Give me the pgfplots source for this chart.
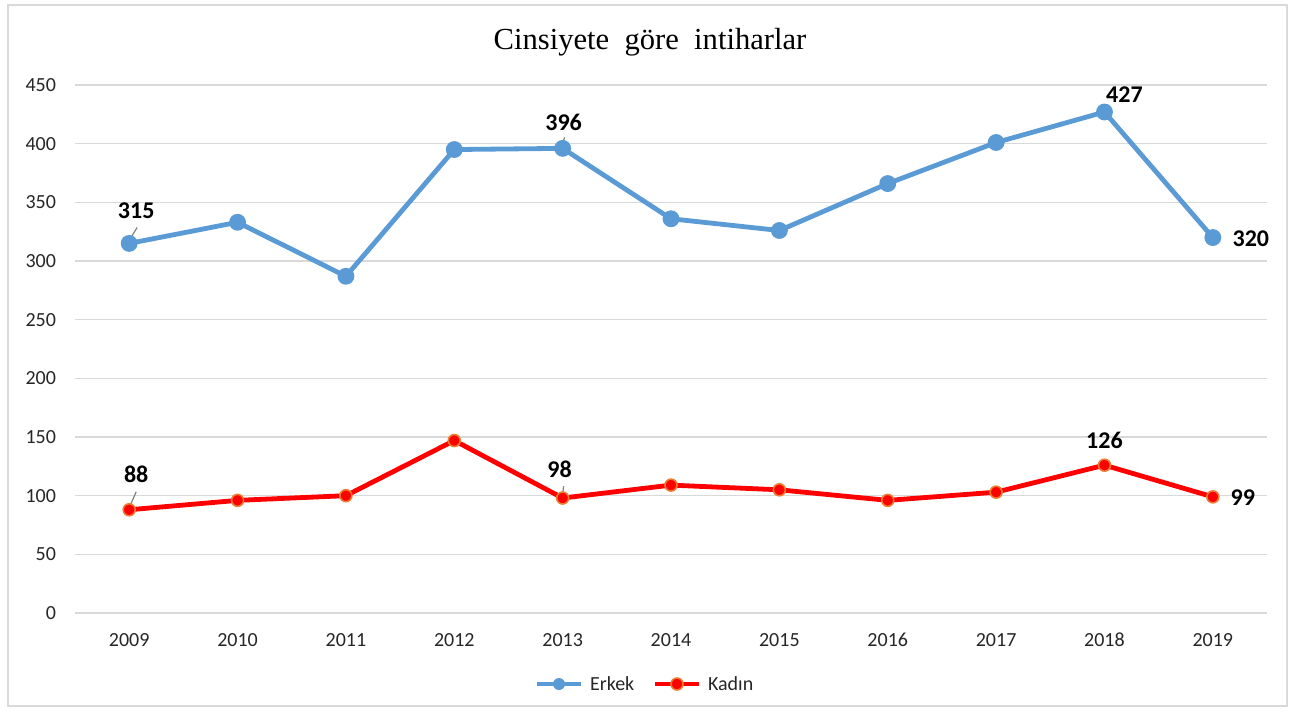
\documentclass[border=0pt]{standalone}
\usepackage{pgfplots}
\pgfplotsset{compat=1.18}
\usetikzlibrary{calc}
\usepackage{fontspec}
\setmainfont{Carlito}
\newfontfamily\titlefont{Liberation Serif}
\definecolor{erkek}{HTML}{5B9BD5}
\definecolor{kadin}{HTML}{FF0000}
\definecolor{kborder}{HTML}{ED7D31}
\definecolor{gridc}{HTML}{D9D9D9}
\begin{document}
\begin{tikzpicture}
\path (-37.5pt,-48pt) rectangle (609pt,306.5pt);
\draw[gridc, line width=0.9pt] (-33.5pt,-46.5pt) rectangle (606pt,304pt);
\begin{axis}[
  scale only axis,
  width=596pt, height=264pt,
  xmin=-0.5, xmax=10.5, ymin=0, ymax=450,
  xtick={0,...,10},
  xticklabels={2009,2010,2011,2012,2013,2014,2015,2016,2017,2018,2019},
  ytick={0,50,...,450},
  ymajorgrids, grid style={gridc, line width=0.8pt},
  axis x line*=bottom, axis y line*=left,
  x axis line style={gridc, line width=0.8pt, -},
  y axis line style={draw=none},
  major tick length=0pt,
  tick label style={font=\fontsize{10pt}{12pt}\selectfont, text=black!85},
  /pgf/number format/assume math mode=true,
  xticklabel style={yshift=-6.5pt},
  yticklabel style={xshift=-6pt},
  clip=false,
]
\addplot[erkek, line width=2.4pt, mark=*, mark size=3pt, mark options={fill=erkek, draw=erkek}]
  coordinates {(0,315) (1,333) (2,287) (3,395) (4,396) (5,336) (6,326) (7,366) (8,401) (9,427) (10,320)};
\addplot[kadin, line width=2.4pt, mark=*, mark size=3pt, mark options={fill=kadin, draw=kborder, line width=0.8pt}]
  coordinates {(0,88) (1,96) (2,100) (3,147) (4,98) (5,109) (6,105) (7,96) (8,103) (9,126) (10,99)};
% leader lines
\draw[gray, line width=0.6pt] (axis cs:0,315) ++(0pt,1.5pt) -- ++(4pt,6.5pt);
\draw[gray, line width=0.6pt] (axis cs:4,396) ++(0pt,2.5pt) -- ++(1pt,3pt);
\draw[gray, line width=0.6pt] (axis cs:0,88) ++(0pt,1pt) -- ++(3.5pt,8pt);
\draw[gray, line width=0.6pt] (axis cs:4,98) ++(0pt,2pt) -- ++(0.5pt,4pt);
\tikzset{dl/.style={font=\bfseries\fontsize{12pt}{13pt}\selectfont, text=black}}
\node[dl] at ($(axis cs:0,315)+(3.5pt,16.5pt)$) {315};
\node[dl] at ($(axis cs:4,396)+(0.5pt,13pt)$) {396};
\node[dl] at ($(axis cs:9,427)+(10pt,8.5pt)$) {427};
\node[dl] at ($(axis cs:10,320)+(19pt,-0.5pt)$) {320};
\node[dl] at ($(axis cs:0,88)+(3.5pt,17.5pt)$) {88};
\node[dl] at ($(axis cs:4,98)+(-1.5pt,14.5pt)$) {98};
\node[dl] at ($(axis cs:9,126)+(0pt,12.5pt)$) {126};
\node[dl] at ($(axis cs:10,99)+(15pt,-0.5pt)$) {99};
\end{axis}
\node at (287.5pt,285.5pt) {\titlefont\fontsize{15.3pt}{17pt}\selectfont Cinsiyete\ \ göre\ \ intiharlar};
% legend
\begin{scope}[shift={(290pt,-35.5pt)}]
\draw[erkek, line width=2.4pt] (-59pt,0) -- (-37pt,0);
\fill[erkek] (-48pt,0) circle (3pt);
\node[anchor=west, font=\fontsize{10pt}{12pt}\selectfont, text=black!85] at (-36pt,0) {Erkek};
\draw[kadin, line width=2.4pt] (0pt,0) -- (22pt,0);
\filldraw[fill=kadin, draw=kborder, line width=0.8pt] (11pt,0) circle (3pt);
\node[anchor=west, font=\fontsize{10pt}{12pt}\selectfont, text=black!85] at (23pt,0) {Kadın};
\end{scope}
\end{tikzpicture}
\end{document}
